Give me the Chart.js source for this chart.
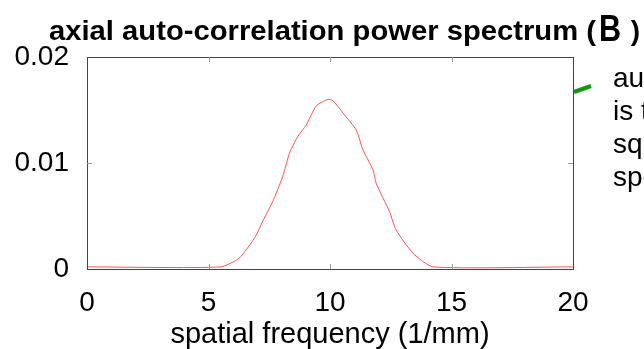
<!DOCTYPE html>
<html>
<head>
<meta charset="utf-8">
<script src="https://cdn.jsdelivr.net/npm/chart.js@4.4.1/dist/chart.umd.min.js"></script>
<style>
  html, body { margin: 0; padding: 0; background: #fff; }
  #wrap { width: 644px; height: 349px; position: relative; }
</style>
</head>
<body>
<div id="wrap"><canvas id="chart" width="644" height="349"></canvas></div>
<script>
// values
const freq = [0, 5.5, 6.27, 6.93, 7.2, 7.64, 8.05, 8.33, 8.67, 9.02, 9.43, 9.91, 10.12, 10.6, 11.08, 11.36, 11.77, 11.9, 12.45, 12.72, 13.42, 14.24, 20];
const power = [0.0002, 0.0002, 0.00104, 0.00305, 0.00437, 0.00635, 0.00871, 0.01091, 0.01248, 0.01358, 0.01538, 0.0160, 0.01588, 0.01453, 0.01311, 0.01123, 0.00934, 0.00808, 0.0054, 0.00368, 0.00148, 0.0002, 0.0002];
const xTicks = [0, 5, 10, 15, 20];
const yTicks = [0, 0.01, 0.02];
const yLabels = ["0", "0.01", "0.02"];

const FONT = "'Liberation Sans', Arial, sans-serif";

const decor = {
  id: "decor",
  afterDraw(chart) {
    const { ctx, chartArea: a, scales } = chart;
    ctx.save();
    // frame
    ctx.strokeStyle = "#444";
    ctx.lineWidth = 1;
    ctx.strokeRect(Math.round(a.left) + 0.5, Math.round(a.top) + 0.5, Math.round(a.right - a.left), Math.round(a.bottom - a.top));
    // inward ticks
    ctx.strokeStyle = "#999";
    xTicks.forEach(v => {
      if (v === 0 || v === 20) return;
      const px = Math.round(scales.x.getPixelForValue(v)) + 0.5;
      ctx.beginPath();
      ctx.moveTo(px, a.bottom); ctx.lineTo(px, a.bottom - 5);
      ctx.moveTo(px, a.top); ctx.lineTo(px, a.top + 5);
      ctx.stroke();
    });
    yTicks.forEach(v => {
      if (v === 0 || v === 0.02) return;
      const py = Math.round(scales.y.getPixelForValue(v)) + 0.5;
      ctx.beginPath();
      ctx.moveTo(a.left, py); ctx.lineTo(a.left + 5, py);
      ctx.moveTo(a.right, py); ctx.lineTo(a.right - 5, py);
      ctx.stroke();
    });
    // title, squeezed a little to fit the width it takes in the reference
    ctx.fillStyle = "#000";
    ctx.textBaseline = "alphabetic";
    ctx.textAlign = "left";
    ctx.font = "bold 28px " + FONT;
    const t1 = "axial auto-correlation power spectrum (";
    const w1 = ctx.measureText(t1).width;
    ctx.save();
    ctx.translate(49, 40);
    ctx.scale(547 / w1, 1);
    ctx.fillText(t1, 0, 0);
    ctx.restore();
    ctx.font = "900 36px " + FONT;
    ctx.save();
    ctx.translate(599, 41);
    ctx.scale(0.85, 1);
    ctx.fillText("B", 0, 0);
    ctx.restore();
    ctx.font = "bold 28px " + FONT;
    ctx.textAlign = "right";
    ctx.fillText(")", 640, 40);
    // x axis title
    ctx.font = "29px " + FONT;
    ctx.textAlign = "center";
    ctx.fillText("spatial frequency (1/mm)", 330, 343);
    // side note (cut off by the page edge)
    ctx.textAlign = "left";
    ctx.font = "28px " + FONT;
    ["autocorrelation", "is the", "squared", "spectrum"].forEach((s, i) => {
      ctx.fillText(s, 613, 87 + i * 33);
    });
    // green pointer
    ctx.strokeStyle = "#0a9a0a";
    ctx.lineWidth = 4;
    ctx.beginPath();
    ctx.moveTo(574, 92); ctx.lineTo(591, 86);
    ctx.stroke();
    ctx.restore();
  }
};

new Chart(document.getElementById("chart"), {
  type: "line",
  data: {
    datasets: [{
      data: freq.map((f, i) => ({ x: f, y: power[i] })),
      borderColor: "rgba(255,40,40,0.8)",
      borderWidth: 1,
      pointRadius: 0,
      tension: 0.2,
      fill: false
    }]
  },
  options: {
    responsive: false,
    animation: false,
    layout: { padding: { left: 0, right: 71, top: 57, bottom: 0 } },
    plugins: { legend: { display: false }, tooltip: { enabled: false }, title: { display: false } },
    scales: {
      x: {
        type: "linear", min: 0, max: 20,
        afterBuildTicks: s => { s.ticks = xTicks.map(v => ({ value: v })); },
        afterFit: s => { s.height = 80; },
        grid: { display: false },
        border: { display: false },
        ticks: { color: "#000", font: { family: FONT, size: 28 }, padding: 9, maxRotation: 0 }
      },
      y: {
        min: 0, max: 0.02,
        afterBuildTicks: s => { s.ticks = yTicks.map(v => ({ value: v })); },
        afterFit: s => { s.width = 87; },
        grid: { display: false },
        border: { display: false },
        ticks: {
          color: "#000", font: { family: FONT, size: 28 }, padding: 10,
          callback: v => yLabels[yTicks.indexOf(v)]
        }
      }
    }
  },
  plugins: [decor]
});
</script>
</body>
</html>
